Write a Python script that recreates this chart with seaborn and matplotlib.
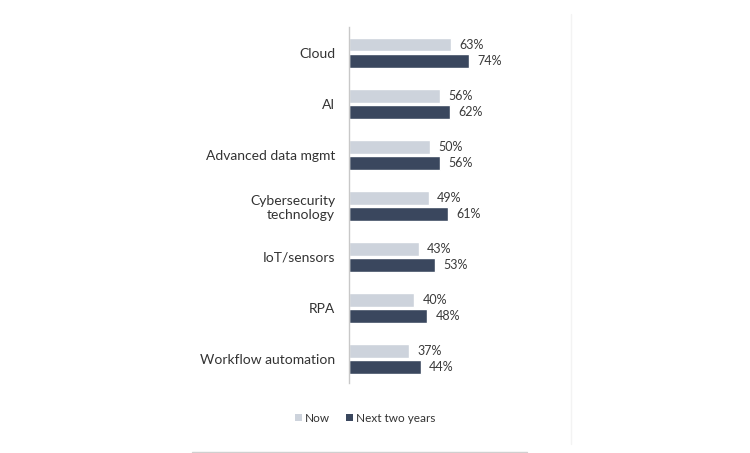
import matplotlib
matplotlib.use("Agg")
import matplotlib.pyplot as plt
import seaborn as sns
import pandas as pd
from matplotlib.lines import Line2D
from matplotlib.patches import Patch

sns.set_theme(style="white")
plt.rcParams['font.family'] = ['Lato', 'DejaVu Sans']

# data
categories = ["Cloud", "AI", "Advanced data mgmt", "Cybersecurity\ntechnology",
              "IoT/sensors", "RPA", "Workflow automation"]
now_values = [63, 56, 50, 49, 43, 40, 37]
next_values = [74, 62, 56, 61, 53, 48, 44]
series_names = ["Now", "Next two years"]
colors = ["#cdd3dc", "#3a475e"]

df = pd.DataFrame({
    "category": categories * 2,
    "value": now_values + next_values,
    "period": [series_names[0]] * len(categories) + [series_names[1]] * len(categories),
})

fig = plt.figure(figsize=(7.5, 4.53), dpi=100)
ax = fig.add_axes([0.4653, 0.1545, 0.295, 0.7855])

sns.barplot(data=df, y="category", x="value", hue="period", orient="h",
            palette=colors, width=0.64, gap=0.15, ax=ax, legend=False,
            saturation=1)

for container in ax.containers:
    ax.bar_label(container, labels=[f"{v:.0f}%" for v in container.datavalues],
                 padding=6, fontsize=9, color="#3a3a3a")

ax.set_xlim(0, 136)
ax.set_ylim(6.47, -0.5)
ax.set_xlabel("")
ax.set_ylabel("")
ax.set_xticks([])
ax.tick_params(axis="y", length=0, pad=10, labelsize=10, labelcolor="#333333")
for side in ["top", "right", "bottom"]:
    ax.spines[side].set_visible(False)
ax.spines["left"].set_color("#c8c8c8")
ax.spines["left"].set_linewidth(1)

handles = [Patch(facecolor=c, edgecolor="none") for c in colors]
fig.legend(handles, series_names, loc="center",
           bbox_to_anchor=(0.487, 1 - 418 / 453),
           frameon=False, ncol=2, fontsize=8.5, handlelength=0.6, handleheight=0.6,
           handletextpad=0.3, columnspacing=1.3, labelcolor="#333333")

# thin rule at bottom and faint frame line at right
fig.add_artist(Line2D([192 / 750, 527 / 750], [1 - 452 / 453] * 2,
                      transform=fig.transFigure, color="#d0d0d0", linewidth=1))
fig.add_artist(Line2D([571 / 750] * 2, [0.02, 0.97],
                      transform=fig.transFigure, color="#f3f3f3", linewidth=1))

fig.savefig("out.png", dpi=100)
